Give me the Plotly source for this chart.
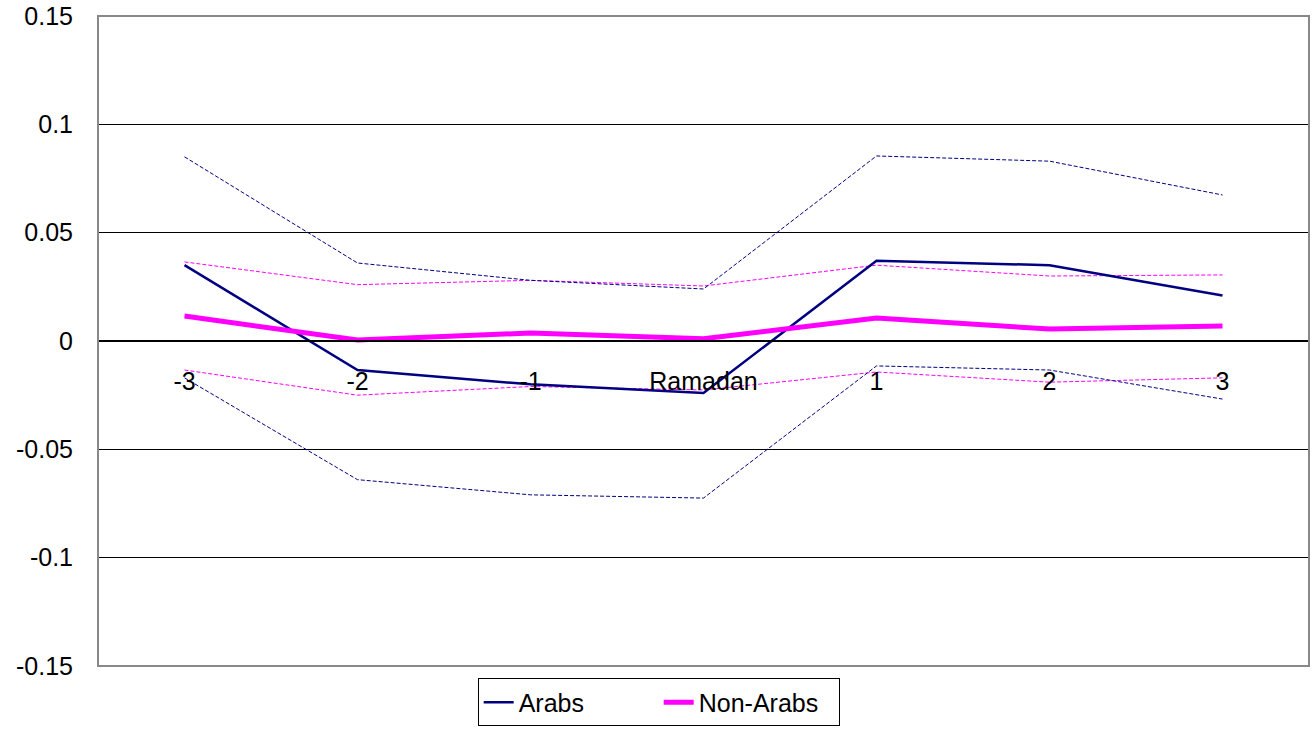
import plotly.graph_objects as go

categories = ["-3", "-2", "-1", "Ramadan", "1", "2", "3"]
arabs = [0.035, -0.0134, -0.020, -0.024, 0.037, 0.035, 0.021]
arabs_upper = [0.085, 0.036, 0.028, 0.024, 0.0854, 0.083, 0.0674]
arabs_lower = [-0.017, -0.064, -0.071, -0.0725, -0.0115, -0.0134, -0.0268]
non_arabs = [0.0115, 0.0005, 0.0037, 0.001, 0.0106, 0.0055, 0.0069]
non_arabs_upper = [0.0365, 0.026, 0.028, 0.0254, 0.035, 0.030, 0.0305]
non_arabs_lower = [-0.0134, -0.025, -0.021, -0.0226, -0.0143, -0.019, -0.017]
y_ticks = [-0.15, -0.1, -0.05, 0, 0.05, 0.1, 0.15]
y_tick_labels = ["-0.15", "-0.1", "-0.05", "0", "0.05", "0.1", "0.15"]

NAVY = "#000080"
MAGENTA = "#FF00FF"
FONT = "Liberation Sans, Arial, sans-serif"
DASH = "4px,2px"

fig = go.Figure()
for vals in (non_arabs_upper, non_arabs_lower):
    fig.add_trace(go.Scatter(x=categories, y=vals, mode="lines", showlegend=False,
                             line=dict(color=MAGENTA, width=1, dash=DASH), hoverinfo="skip"))
for vals in (arabs_upper, arabs_lower):
    fig.add_trace(go.Scatter(x=categories, y=vals, mode="lines", showlegend=False,
                             line=dict(color=NAVY, width=1, dash=DASH), hoverinfo="skip"))
fig.add_trace(go.Scatter(x=categories, y=arabs, mode="lines", name="Arabs",
                         line=dict(color=NAVY, width=2.5)))
fig.add_trace(go.Scatter(x=categories, y=non_arabs, mode="lines", name="Non-Arabs",
                         line=dict(color=MAGENTA, width=5)))

fig.update_layout(
    width=1312, height=732,
    margin=dict(l=98, r=3, t=16, b=66, autoexpand=False),
    paper_bgcolor="white", plot_bgcolor="white",
    font=dict(family=FONT, size=25, color="black"),
    showlegend=True,
    legend=dict(orientation="h", x=0.463, xanchor="center", y=-0.093, yanchor="bottom",
                bordercolor="black", borderwidth=1, font=dict(family=FONT, size=25),
                itemwidth=30, tracegroupgap=0, entrywidth=135),
    xaxis=dict(type="category", range=[-0.5, 6.5], showgrid=False, zeroline=False,
               anchor="free", position=0.5, showline=True, linecolor="black", linewidth=2,
               ticks="", ticklabelstandoff=18, automargin=False,
               tickfont=dict(family=FONT, size=25)),
    yaxis=dict(range=[-0.15, 0.15], tickvals=y_ticks, ticktext=y_tick_labels,
               showgrid=True, gridcolor="black", gridwidth=1, zeroline=False,
               showline=False, ticks="", ticklabelstandoff=24, automargin=False,
               tickfont=dict(family=FONT, size=25)),
)
fig.add_shape(type="rect", xref="paper", yref="paper", x0=0, x1=1, y0=0, y1=1,
              line=dict(color="#888888", width=2), layer="above")

fig.write_html("out.html", config={"displayModeBar": False},
               post_script="document.body.style.margin='0px';document.body.style.overflow='hidden';")
